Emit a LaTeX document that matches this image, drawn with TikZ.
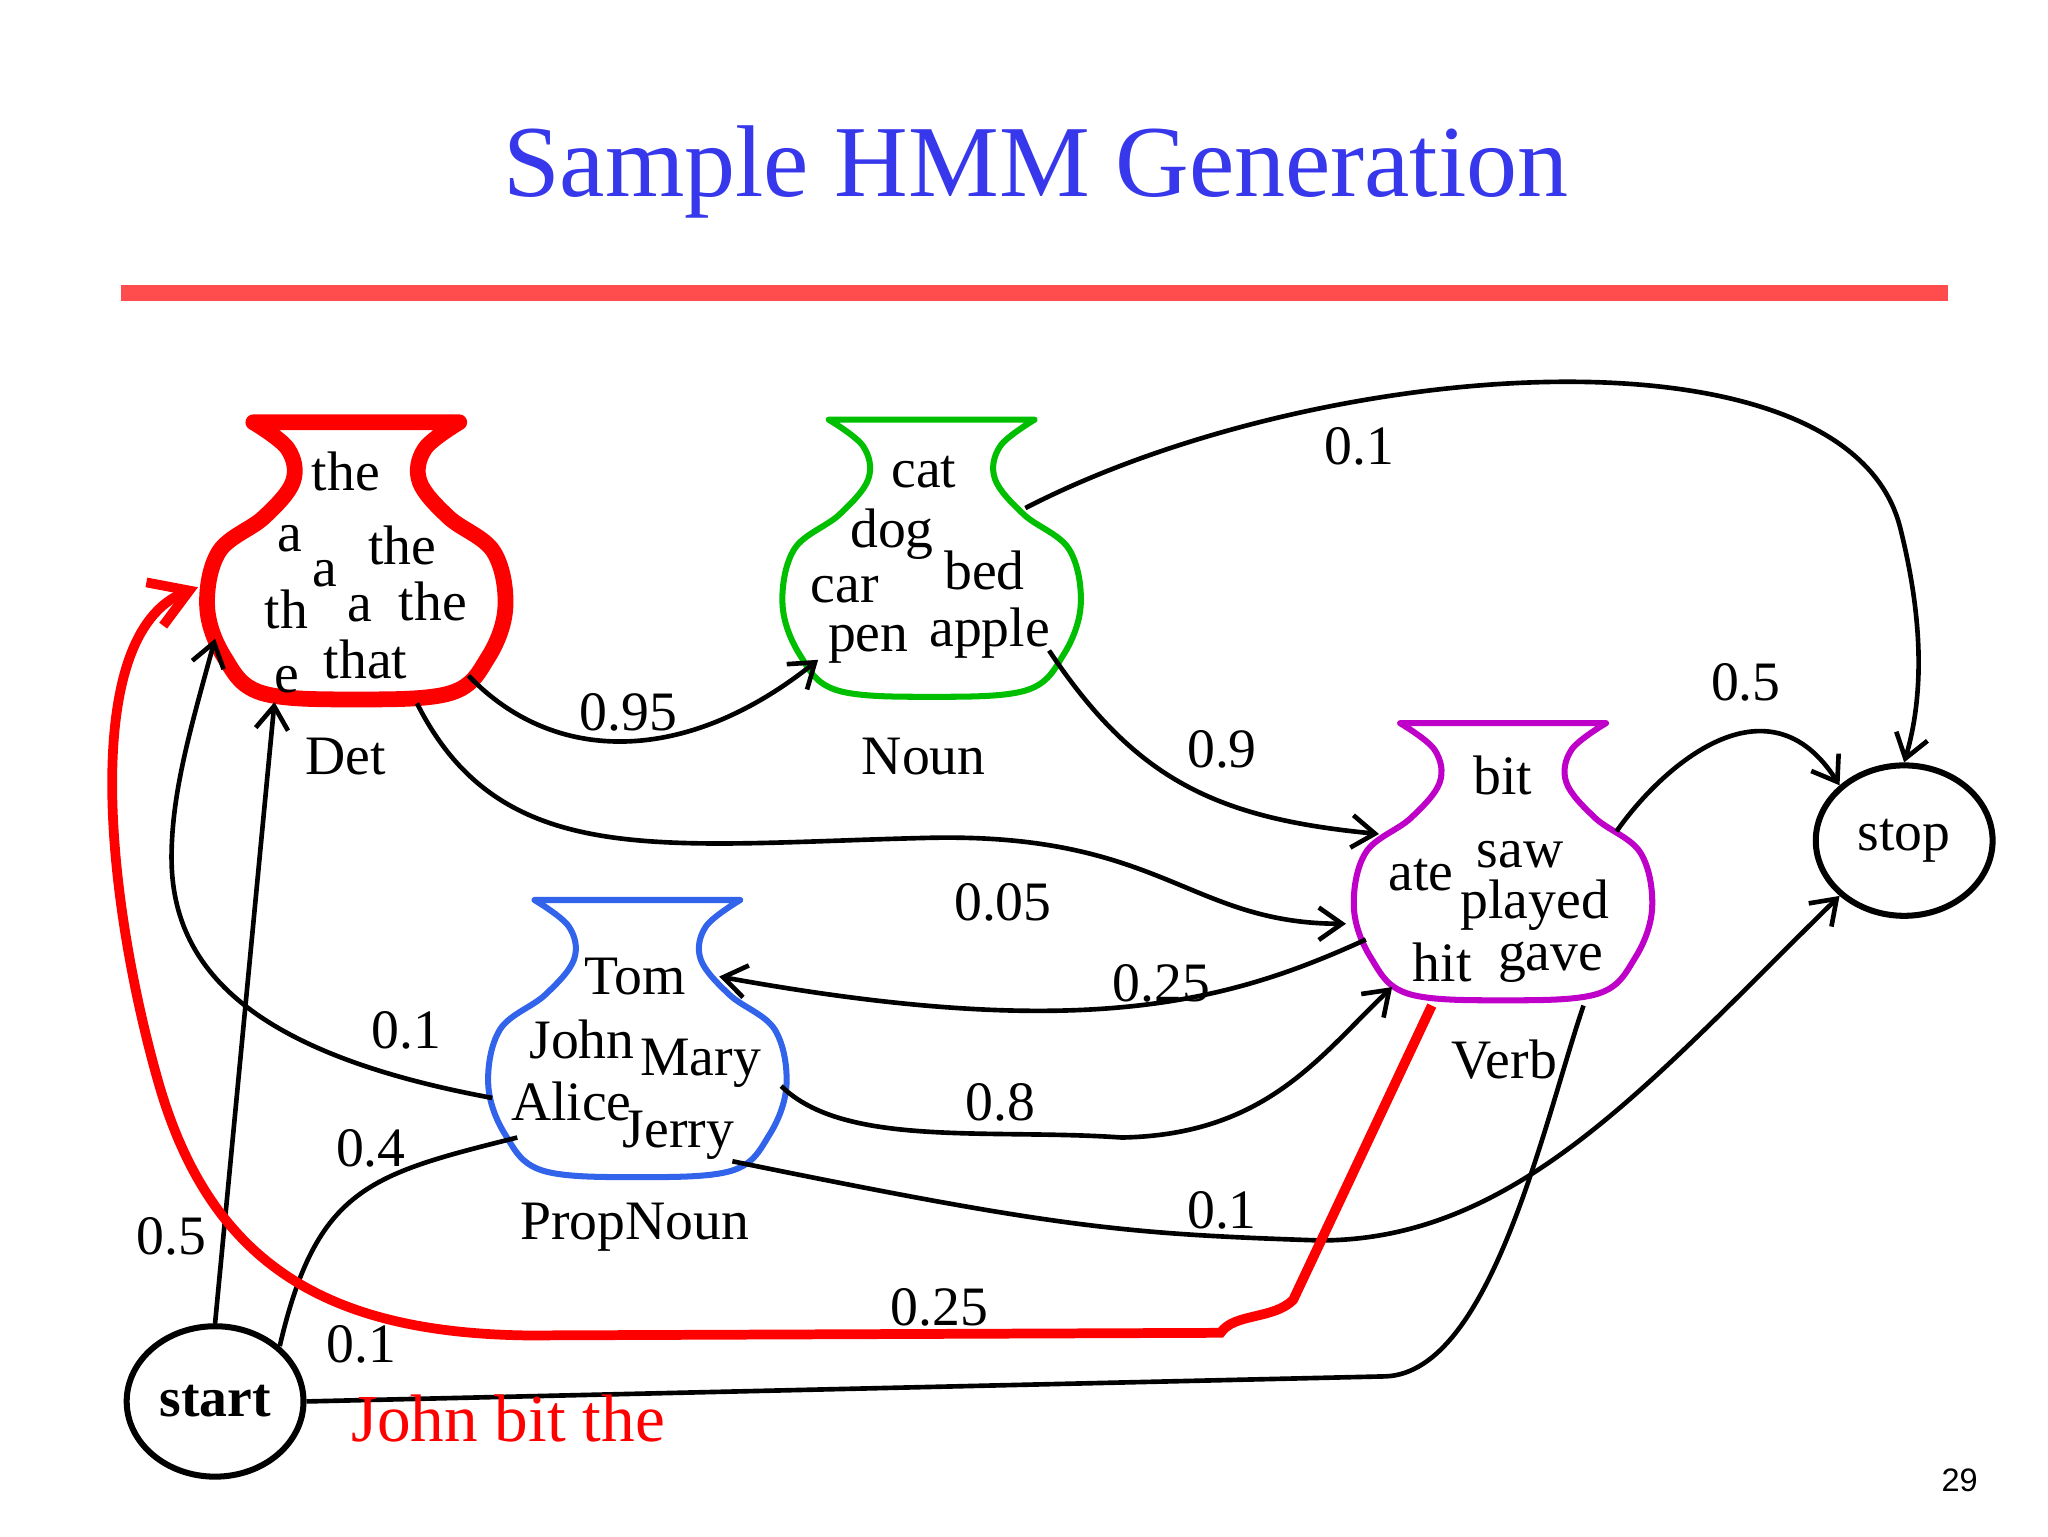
\documentclass[tikz,border=0pt]{standalone}
\usepackage{fontspec}
\setmainfont{Liberation Serif}
\newfontfamily\labsans{Liberation Sans}
\usetikzlibrary{arrows.meta,shapes.geometric}
\definecolor{vpurple}{RGB}{190,0,200}
\definecolor{tblue}{RGB}{55,55,235}
\definecolor{pblue}{RGB}{50,100,235}
\begin{document}
\begin{tikzpicture}[x=0.1mm,y=-0.1mm,
  edge/.style={line width=1pt,-{Straight Barb[length=5pt,width=7pt]}},
  plain/.style={line width=1pt},
  redpath/.style={line width=2.1pt,red,-{Straight Barb[length=8pt,width=10pt]}},
  w/.style={font=\fontsize{12}{14}\selectfont,inner sep=0pt},
  lab/.style={font=\fontsize{12}{14}\selectfont,inner sep=0pt},
  st/.style={draw,line width=1.3pt,ellipse,minimum width=13.4mm,minimum height=11.4mm,inner sep=0pt}]
\useasboundingbox (0,0) rectangle (1552,1164);
\fill[white] (0,0) rectangle (1552,1164);
\node[text=tblue,font=\fontsize{22}{26}\selectfont] (title) at (785,130) {Sample HMM Generation};
\fill[red!70!white] (92,216) rectangle (1476,228);
\def\vase#1#2#3#4{\draw[#3,line width=#4,line join=round] plot[smooth,tension=0.6] coordinates {(#1+78,#2) (#1+52,#2+20) (#1+48,#2+45) (#1+70,#2+72) (#1+104,#2+98) (#1+113,#2+140) (#1+100,#2+178) (#1+72,#2+205) (#1,#2+210) (#1-72,#2+205) (#1-100,#2+178) (#1-113,#2+140) (#1-104,#2+98) (#1-70,#2+72) (#1-48,#2+45) (#1-52,#2+20) (#1-78,#2)} -- cycle;}
\vase{270}{320}{red}{3.4pt}
\vase{706}{318}{green!75!black}{1.3pt}
\vase{483}{682}{pblue}{1.3pt}
\vase{1139}{548}{vpurple}{1.3pt}
% words
\node[w] (d1) at (262,357) {the};
\node[w] (d2) at (220,408) {a};
\node[w] (d3) at (305,413) {the};
\node[w] (d4) at (246,435) {a};
\node[w] (d5) at (217,462) {th};
\node[w] (d6) at (273,461) {a};
\node[w] (d7) at (328,456) {the};
\node[w] (d8) at (217,515) {e};
\node[w] (d9) at (277,500) {that};
\node[w] (n1) at (700,358) {cat};
\node[w] (n2) at (676,405) {dog};
\node[w] (n3) at (746,432) {bed};
\node[w] (n4) at (640,447) {car};
\node[w] (n5) at (658,488) {pen};
\node[w] (n6) at (750,480) {apple};
\node[w] (v1) at (1139,588) {bit};
\node[w] (v2) at (1152,648) {saw};
\node[w] (v3) at (1077,663) {ate};
\node[w] (v4) at (1163,686) {played};
\node[w] (v5) at (1093,729) {hit};
\node[w] (v6) at (1175,729) {gave};
\node[w] (p1) at (481,740) {Tom};
\node[w] (p2) at (441,788) {John};
\node[w] (p3) at (531,806) {Mary};
\node[w] (p4) at (433,835) {Alice};
\node[w] (p5) at (514,860) {Jerry};
\node[lab] (Ldet) at (262,573) {Det};
\node[lab] (Lnoun) at (700,573) {Noun};
\node[lab] (Lprop) at (481,930) {PropNoun};
\node[lab] (Lverb) at (1140,803) {Verb};
\node[st,font=\bfseries\fontsize{12}{14}\selectfont] (start) at (163,1062) {start};
\node[st,font=\fontsize{12}{14}\selectfont] (stop) at (1443,637) {stop};
% edges
\draw[edge] (355,512) .. controls (420,580) and (520,580) .. (620,500);
\node[lab] (e1) at (476,540) {0.95};
\draw[edge] (316,533) .. controls (380,660) and (500,640) .. (700,635) .. controls (880,630) and (900,700) .. (1020,700);
\node[lab] (e2) at (760,684) {0.05};
\draw[edge] (795,493) .. controls (860,590) and (920,620) .. (1045,632);
\node[lab] (e3) at (926,568) {0.9};
\draw[edge] (777,385) .. controls (1000,270) and (1400,240) .. (1440,400) .. controls (1455,460) and (1460,520) .. (stop.north);
\node[lab] (e4) at (1030,338) {0.1};
\draw[edge] (1225,630) .. controls (1260,580) and (1340,510) .. (stop.north west);
\node[lab] (e5) at (1323,517) {0.5};
\draw[edge] (1035,712) .. controls (930,760) and (820,790) .. (545,740);
\node[lab] (e6) at (880,745) {0.25};
\draw[edge] (592,823) .. controls (640,870) and (750,855) .. (850,862) .. controls (960,860) and (1000,800) .. (1055,748);
\node[lab] (e7) at (758,835) {0.8};
\draw[edge] (555,880) .. controls (800,930) and (850,935) .. (1000,940) .. controls (1150,940) and (1250,820) .. (stop.south west);
\node[lab] (e8) at (926,917) {0.1};
\draw[edge] (373,832) .. controls (200,800) and (130,740) .. (130,650) .. controls (130,600) and (145,550) .. (163,484);
\node[lab] (e9) at (308,781) {0.1};
\draw[edge] (start.north) -- (208,532);
\node[lab] (e10) at (130,937) {0.5};
\draw[plain] (start.north east) .. controls (240,900) and (280,890) .. (392,862);
\node[lab] (e11) at (281,870) {0.4};
\draw[plain] (start.east) -- (1050,1043) .. controls (1130,1040) and (1170,850) .. (1200,762);
\node[lab] (e12) at (274,1019) {0.1};
\draw[redpath] (1085,762) -- (980,985) .. controls (965,1000) and (935,995) .. (925,1010) -- (400,1012) .. controls (250,1010) and (160,960) .. (120,820) .. controls (80,680) and (60,480) .. (150,445);
\node[lab] (e13) at (712,991) {0.25};
\node[text=red,font=\fontsize{14.5}{17}\selectfont] (jbt) at (385,1075) {John bit the};
\node[font=\labsans\fontsize{7}{8}\selectfont] (pg) at (1485,1122) {29};
\end{tikzpicture}
\end{document}
